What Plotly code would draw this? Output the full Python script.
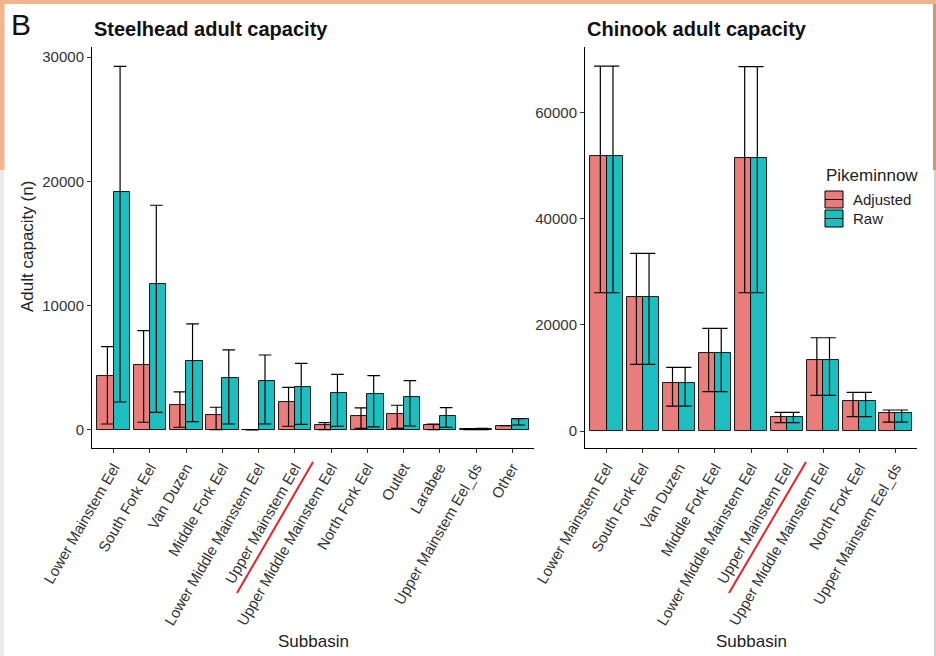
import plotly.graph_objects as go

# ---- Steelhead adult capacity (left panel) ----
steel_cats = ["Lower Mainstem Eel", "South Fork Eel", "Van Duzen", "Middle Fork Eel",
              "Lower Middle Mainstem Eel", "Upper Mainstem Eel", "Upper Middle Mainstem Eel",
              "North Fork Eel", "Outlet", "Larabee", "Upper Mainstem Eel_ds", "Other"]
steel_adj = [4340, 5230, 1990, 1180, 15, 2280, 400, 1130, 1290, 380, 60, 350]
steel_adj_lo = [480, 620, 220, 30, 0, 300, 30, 130, 130, 30, 20, 350]
steel_adj_hi = [6700, 7990, 3060, 1830, 30, 3430, 590, 1770, 1990, 480, 110, 350]
steel_raw = [19120, 11720, 5580, 4180, 3940, 3490, 2950, 2870, 2630, 1130, 80, 910]
steel_raw_lo = [2250, 1420, 670, 480, 480, 450, 300, 250, 320, 220, 30, 400]
steel_raw_hi = [29250, 18080, 8530, 6440, 6030, 5360, 4480, 4370, 3970, 1800, 140, 910]

# ---- Chinook adult capacity (right panel) ----
chin_cats = ["Lower Mainstem Eel", "South Fork Eel", "Van Duzen", "Middle Fork Eel",
             "Lower Middle Mainstem Eel", "Upper Mainstem Eel", "Upper Middle Mainstem Eel",
             "North Fork Eel", "Upper Mainstem Eel_ds"]
chin_adj = [51700, 25280, 9090, 14620, 51400, 2570, 13300, 5650, 3330]
chin_adj_lo = [26030, 12550, 4700, 7400, 26030, 1570, 6720, 2700, 1690]
chin_adj_hi = [68700, 33440, 11990, 19330, 68600, 3510, 17560, 7280, 3950]
chin_raw = [51700, 25280, 9090, 14620, 51400, 2570, 13300, 5650, 3330]
chin_raw_lo = [26030, 12550, 4700, 7400, 26030, 1570, 6720, 2700, 1690]
chin_raw_hi = [68700, 33440, 11990, 19330, 68600, 3510, 17560, 7280, 3950]

groups = ["Adjusted", "Raw"]
ADJ_COLOR = "#EA7C7B"
RAW_COLOR = "#1CBEC0"
FONT = "Liberation Sans, Arial, sans-serif"

W, H = 936, 656


def px(x):
    return x / W


def py(y):
    return 1 - y / H


BAR_W = 0.45      # dodged bar width
ERR_OFF = 0.175   # error bars dodged by their own (narrower) width
CAP_HALF = 6.3    # half cap width in px

fig = go.Figure()


def add_panel(cats, series, xa, ya):
    idx = list(range(len(cats)))
    for k, (vals, lo, hi, color) in enumerate(series):
        sign = -1 if k == 0 else 1
        fig.add_trace(go.Bar(
            x=[i + sign * BAR_W / 2 for i in idx], y=vals, width=BAR_W,
            marker=dict(color=color, line=dict(color="black", width=0.9)),
            xaxis=xa, yaxis=ya, showlegend=False, hoverinfo="skip"))
    for k, (vals, lo, hi, color) in enumerate(series):
        sign = -1 if k == 0 else 1
        fig.add_trace(go.Scatter(
            x=[i + sign * ERR_OFF for i in idx], y=vals, mode="markers",
            marker=dict(size=0.1, color="rgba(0,0,0,0)"),
            error_y=dict(type="data", symmetric=False,
                         array=[h - v for h, v in zip(hi, vals)],
                         arrayminus=[v - l for v, l in zip(vals, lo)],
                         color="black", thickness=1.2, width=CAP_HALF),
            xaxis=xa, yaxis=ya, showlegend=False, hoverinfo="skip"))


add_panel(steel_cats, [(steel_adj, steel_adj_lo, steel_adj_hi, ADJ_COLOR),
                       (steel_raw, steel_raw_lo, steel_raw_hi, RAW_COLOR)], "x", "y")
add_panel(chin_cats, [(chin_adj, chin_adj_lo, chin_adj_hi, ADJ_COLOR),
                      (chin_raw, chin_raw_lo, chin_raw_hi, RAW_COLOR)], "x2", "y2")

ydom = [py(448), py(47)]
tickfont = dict(family=FONT, size=15, color="#333333")
axis_common = dict(showline=True, linecolor="black", linewidth=1, showgrid=False,
                   zeroline=False, ticks="outside", ticklen=4, tickcolor="#333333",
                   tickwidth=1, tickfont=tickfont, automargin=False)

fig.update_layout(
    width=W, height=H,
    margin=dict(l=0, r=0, t=0, b=0, pad=0, autoexpand=False),
    showlegend=False,
    paper_bgcolor="white", plot_bgcolor="white",
    barmode="overlay", bargap=0,
    font=dict(family=FONT, color="#222222"),
    xaxis=dict(domain=[px(92), px(534)], range=[-0.6, len(steel_cats) - 0.4],
               tickmode="array", tickvals=list(range(len(steel_cats))),
               ticktext=steel_cats, tickangle=-60, anchor="y", **axis_common),
    yaxis=dict(domain=ydom, range=[-1450, 30810], tickmode="array",
               tickvals=[0, 10000, 20000, 30000], tickformat="d", anchor="x",
               **axis_common),
    xaxis2=dict(domain=[px(585), px(917)], range=[-0.6, len(chin_cats) - 0.4],
                tickmode="array", tickvals=list(range(len(chin_cats))),
                ticktext=chin_cats, tickangle=-60, anchor="y2", **axis_common),
    yaxis2=dict(domain=ydom, range=[-3200, 72300], tickmode="array",
                tickvals=[0, 20000, 40000, 60000], tickformat="d", anchor="x2",
                **axis_common),
)

ann = []
ann.append(dict(text="B", x=px(9), y=py(25), xanchor="left", yanchor="middle",
                font=dict(size=30, family=FONT, color="#111111")))
for t, x0 in [("<b>Steelhead adult capacity</b>", 92), ("<b>Chinook adult capacity</b>", 585)]:
    ann.append(dict(text=t, x=px(x0), y=py(29), xanchor="left", yanchor="middle",
                    font=dict(size=20, family=FONT, color="#111111")))
ann.append(dict(text="Adult capacity (n)", x=px(28), y=py(247), textangle=-90,
                xanchor="center", yanchor="middle",
                font=dict(size=17, family=FONT, color="#222222")))
for xc in [313, 751]:
    ann.append(dict(text="Subbasin", x=px(xc), y=py(641), xanchor="center", yanchor="middle",
                    font=dict(size=17, family=FONT, color="#222222")))
# legend
ann.append(dict(text="Pikeminnow", x=px(824), y=py(175), xanchor="left", yanchor="middle",
                font=dict(size=17, family=FONT, color="#222222")))
key_rows = [(191, 208), (210, 227)]
for (y0, y1), g in zip(key_rows, groups):
    ann.append(dict(text=g, x=px(851), y=py((y0 + y1) / 2), xanchor="left", yanchor="middle",
                    font=dict(size=15, family=FONT, color="#222222")))
for a in ann:
    a.update(xref="paper", yref="paper", showarrow=False)

shapes = []
for (y0, y1), color in zip(key_rows, [ADJ_COLOR, RAW_COLOR]):
    shapes.append(dict(type="rect", x0=px(825), x1=px(843), y0=py(y1), y1=py(y0),
                       fillcolor=color, line=dict(color="black", width=1)))
    shapes.append(dict(type="line", x0=px(825), x1=px(843), y0=py((y0 + y1) / 2),
                       y1=py((y0 + y1) / 2), line=dict(color="black", width=1)))
# red marker strokes under the label lists
for (xa, ya, xb, yb) in [(237, 593, 313, 462), (729, 593, 806, 462)]:
    shapes.append(dict(type="line", x0=px(xa), y0=py(ya), x1=px(xb), y1=py(yb),
                       line=dict(color="#E5222C", width=2)))
# page frame
shapes.append(dict(type="rect", x0=0, x1=1, y0=py(4), y1=1, fillcolor="#EFB68D",
                   line=dict(width=0), layer="above"))
shapes.append(dict(type="rect", x0=0, x1=px(4.5), y0=py(170), y1=py(4), fillcolor="#EFB68D",
                   line=dict(width=0), layer="above"))
shapes.append(dict(type="rect", x0=0, x1=px(4), y0=0, y1=py(170), fillcolor="#EAEAEA",
                   line=dict(width=0), layer="above"))
shapes.append(dict(type="rect", x0=px(933), x1=1, y0=py(170), y1=py(4), fillcolor="#C79A78",
                   line=dict(width=0), layer="above"))
shapes.append(dict(type="rect", x0=px(934), x1=1, y0=0, y1=py(170), fillcolor="#CFCFCF",
                   line=dict(width=0), layer="above"))
for s in shapes:
    s.update(xref="paper", yref="paper")

fig.update_layout(annotations=ann, shapes=shapes)
fig.write_html("out.html")
